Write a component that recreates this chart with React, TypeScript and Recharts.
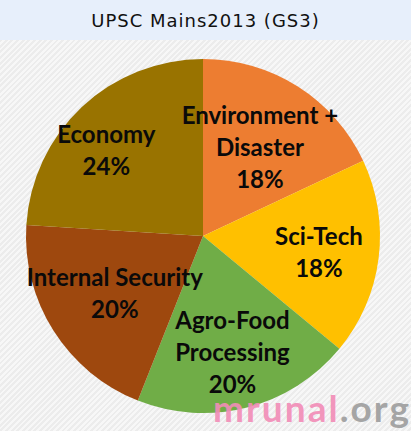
import React from "react";
import { PieChart, Pie, Cell } from "recharts";

const categories = ["Environment + Disaster", "Sci-Tech", "Agro-Food Processing", "Internal Security", "Economy"];
const shares = [18, 18, 20, 20, 24];
const labelLines = [
  ["Environment +", "Disaster", "18%"],
  ["Sci-Tech", "18%"],
  ["Agro-Food", "Processing", "20%"],
  ["Internal Security", "20%"],
  ["Economy", "24%"],
];
const colors = ["#ED7D31", "#FFC000", "#70AD47", "#9E480E", "#997300"];
const labelRadiusFactor = [0.6, 0.66, 0.67, 0.59, 0.735];
const labelAngleShift = [0, 0, 0, 0, 4.8];

const data = categories.map((name, i) => ({ name, value: shares[i] }));

const RAD = Math.PI / 180;

const renderLabel = (props: any) => {
  const { cx, cy, midAngle, outerRadius, index } = props;
  const r = outerRadius * labelRadiusFactor[index];
  const a = midAngle + labelAngleShift[index];
  const x = cx + r * Math.cos(-a * RAD);
  const y = cy + r * Math.sin(-a * RAD);
  const lines = labelLines[index];
  const lh = 32;
  const startY = y - ((lines.length - 1) * lh) / 2;
  return (
    <text
      x={x}
      y={startY}
      textAnchor="middle"
      dominantBaseline="central"
      fill="#0a0a0a"
      style={{ fontFamily: "Lato, 'Open Sans', sans-serif", fontWeight: 700, fontSize: 24 }}
    >
      {lines.map((l, k) => (
        <tspan key={k} x={x} dy={k === 0 ? 0 : lh}>
          {l}
        </tspan>
      ))}
    </text>
  );
};

export default function App() {
  return (
    <div
      style={{
        position: "absolute",
        left: 0,
        top: 0,
        width: 411,
        height: 431,
        overflow: "hidden",
        background:
          "repeating-linear-gradient(135deg, #ECECEC 0px, #ECECEC 2px, #F7F7F7 2px, #F7F7F7 4px)",
      }}
    >
      <div
        style={{
          position: "absolute",
          left: 0,
          top: 0,
          width: 411,
          height: 40,
          background: "#E7EFFB",
          display: "flex",
          alignItems: "center",
          justifyContent: "center",
          fontFamily: "'DejaVu Sans', sans-serif",
          fontSize: 18,
          letterSpacing: 1,
          color: "#111",
          paddingTop: 1,
          boxSizing: "border-box",
        }}
      >
        UPSC Mains2013 (GS3)
      </div>
      <div style={{ position: "absolute", left: 0, top: 0 }}>
        <PieChart width={411} height={431} margin={{ top: 0, right: 0, bottom: 0, left: 0 }}>
          <Pie
            data={data}
            dataKey="value"
            nameKey="name"
            cx={203}
            cy={236}
            outerRadius={177}
            startAngle={90}
            endAngle={-270}
            stroke="none"
            label={renderLabel}
            labelLine={false}
            isAnimationActive={false}
          >
            {data.map((d, i) => (
              <Cell key={d.name} fill={colors[i]} />
            ))}
          </Pie>
        </PieChart>
      </div>
      <svg width={411} height={431} style={{ position: "absolute", left: 0, top: 0 }}>
        <text
          x={213}
          y={422}
          textLength={196}
          lengthAdjust="spacing"
          style={{ fontFamily: "Lato, sans-serif", fontWeight: 700, fontSize: 37 }}
        >
          <tspan fill="#F28CB7" fillOpacity={0.92}>mrunal</tspan>
          <tspan fill="#A5A5A5">.org</tspan>
        </text>
      </svg>
    </div>
  );
}
